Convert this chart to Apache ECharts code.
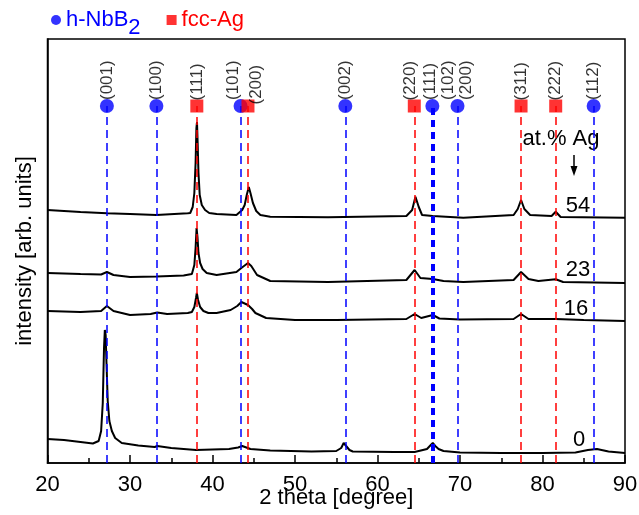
<!DOCTYPE html>
<html><head><meta charset="utf-8">
<script src="https://cdn.jsdelivr.net/npm/echarts@6/dist/echarts.min.js"></script>
<style>html,body{margin:0;padding:0;background:#fff}#c{width:639px;height:515px}</style>
</head><body><div id="c"></div>
<script>
// XRD patterns (intensity in arb. units, already vertically offset as plotted)
const tt0  = [20,22,24,25.5,26.2,26.5,26.7,26.85,26.95,27.05,27.15,27.3,27.5,27.8,28.2,29,31,33,33.3,35,38,42,43.1,43.6,44.1,44.6,47,52,55,55.6,55.9,56.2,56.6,57,62,64.5,66,66.4,66.7,67,67.4,68,70,75,80,84,85.5,86.6,88,90];
const int0 = [24,23,21,19.5,22,32,60,115,133,128,100,62,42,32,25,20,17.5,16,17,15,13,14,15.5,17,15.5,14,12.5,11.5,12,15,20,17,13,11.5,11,11,14,17.5,20,17,14,12,10.5,10,10,10.5,13,14,11.5,10];
const tt16  = [20,24,26.5,27.2,28,30,32.5,33.3,34.5,37,37.5,37.8,38.0,38.1,38.25,38.5,38.9,39.5,40.5,42.2,43.0,43.5,44.3,44.8,45.2,46.5,50,55,63.5,64.5,65.3,66.7,67.5,70,76.5,77.4,78.3,81.6,85,90];
const int16 = [152,151,152,157,152,148,149,150.5,149,150,151,156,165,170,163,156,152,150,150,153,157,161,158,154,150,145,143,143,144,149,145,148,144.5,143.5,144,149,144,144,143,142];
const tt23  = [20,24,26.5,27.2,28,30,33.2,36.5,37.5,37.8,37.95,38.07,38.18,38.3,38.5,38.8,39.3,40.5,42.9,43.5,44.3,44.7,45.4,47,54,63.5,64.5,65.2,66.7,68,70.4,76.5,77.4,78.3,79.5,81.6,82.5,90];
const int23 = [190,189,188.5,191,188,186,186.5,187.5,189,198,215,235,226,210,200,194,190,188,191,195,200,197,188,182,181,183,193,185,184,182,181,183,191,184,182,183.7,181,180];
const tt54  = [20,24,27.2,30,33.2,37,37.3,37.6,37.8,37.95,38.05,38.12,38.2,38.3,38.45,38.7,39.1,39.6,40.5,42.9,43.6,43.9,44.15,44.4,44.6,44.9,45.3,45.8,47,54,63.5,64.2,64.6,65.0,65.4,66.7,70.4,76.5,77.0,77.4,77.8,78.5,81.1,81.6,82.2,90];
const int54 = [253,251,249.7,249,248,249.7,250,256,270,300,335,341,320,290,268,258,253,250,249,248,253,258,268,276,270,260,252,248,246.3,245.7,247,253,266.3,256,248,247,245.3,248,254,263,254,248,247,251.3,246,245.3];
const sampleLabels = ['0','16','23','54'];

// reference reflections
const nbPos = [27.2, 33.2, 43.4, 56.1, 66.65, 69.7, 86.2];
const nbHkl = ['(001)','(100)','(101)','(002)','(111)','(102)\n(200)','(112)'];
const agPos = [38.1, 44.3, 64.46, 77.4, 81.6];
const agHkl = ['(111)','(200)','(220)','(311)','(222)'];
const markerLevel = 357;

const FF = '"Liberation Sans", Arial, sans-serif';
const chart = echarts.init(document.getElementById('c'), null, {renderer:'canvas'});

const zip = (a,b)=>a.map((v,i)=>[v,b[i]]);
const curves = [[tt0,int0],[tt16,int16],[tt23,int23],[tt54,int54]].map((c,i)=>({
  type:'line', name:'s'+sampleLabels[i], data: zip(c[0],c[1]), showSymbol:false, symbol:'none',
  lineStyle:{color:'#000', width:2}, z:2, silent:true, animation:false
}));

// label offsets are in the rotated label frame: [along text (up), across text (right)]
const nbLabelOffset = {2:[0,-7], 4:[0,-2]};
const agLabelOffset = {1:[-4,8], 2:[0,-4]};

function phaseSeries(name, pos, hkl, color, symbol, size, offs, thickIdx){
  return {
    type:'scatter', name, symbol, symbolSize:size, z:5, animation:false,
    itemStyle:{color},
    data: pos.map((p,i)=>({value:[p,markerLevel], label:{offset: offs[i]||[0,0]}})),
    label:{show:true, formatter:(d)=>hkl[d.dataIndex], position:'top', distance:-1, rotate:90,
      align:'left', verticalAlign:'middle', fontSize:17, color:'#000', fontFamily:FF, lineHeight:18},
    markLine:{silent:true, symbol:'none', animation:false, label:{show:false},
      lineStyle:{color, type:[8,5], width:1.5},
      data: pos.map((p,i)=>[{coord:[p,0], lineStyle: i===thickIdx?{width:4,type:[7,5]}:undefined},{coord:[p,markerLevel]}])
    }
  };
}

const option = {
  backgroundColor:'#fff',
  animation:false,
  textStyle:{fontFamily:FF},
  grid:{left:47.5, right:14, top:39, bottom:52, show:true, borderColor:'#000', borderWidth:1.5,
    backgroundColor:'transparent', containLabel:false, outerBoundsMode:'none'},
  legend:{
    left:46, top:4, itemWidth:10, itemHeight:10, itemGap:26, selectedMode:false,
    data:[{name:'h-NbB2', icon:'circle'},{name:'fcc-Ag', icon:'rect'}],
    formatter:(n)=> n==='h-NbB2' ? '{a|h-NbB}{b|2}' : '{c|fcc-Ag}',
    textStyle:{fontFamily:FF, rich:{
      a:{fontSize:22, color:'#0000ff', fontFamily:FF, lineHeight:22, verticalAlign:'top'},
      b:{fontSize:22, color:'#0000ff', fontFamily:FF, lineHeight:22, padding:[8,0,0,0], verticalAlign:'top'},
      c:{fontSize:22, color:'#ff0000', fontFamily:FF, lineHeight:22, verticalAlign:'top'}
    }}
  },
  xAxis:{type:'value', min:20, max:90, interval:10,
    axisLine:{lineStyle:{color:'#000', width:1.5}},
    axisTick:{inside:true, length:8, lineStyle:{color:'#000', width:1.5}},
    minorTick:{show:true, splitNumber:2, length:5, lineStyle:{color:'#000', width:1.5}},
    splitLine:{show:false},
    axisLabel:{fontSize:22, color:'#000', margin:11, fontFamily:FF},
    name:'2 theta [degree]', nameLocation:'middle', nameGap:24, nameMoveOverlap:false,
    nameTextStyle:{fontSize:22, color:'#000', fontFamily:FF}
  },
  yAxis:{type:'value', min:0, max:424,
    axisLine:{show:true, lineStyle:{color:'#000', width:1.5}},
    axisTick:{show:false}, axisLabel:{show:false}, splitLine:{show:false},
    name:'intensity [arb. units]', nameLocation:'middle', nameGap:12, nameMoveOverlap:false,
    nameTextStyle:{fontSize:22, color:'#000', fontFamily:FF}
  },
  series:[
    ...curves,
    phaseSeries('h-NbB2', nbPos, nbHkl, '#0000ff', 'circle', 14, nbLabelOffset, 4),
    phaseSeries('fcc-Ag', agPos, agHkl, '#ff0000', 'rect', 13, agLabelOffset, -1)
  ],
  graphic:[
    {type:'text', x:561, y:139, style:{text:'at.% Ag', fontSize:22, fontFamily:FF, fill:'#000', align:'center', verticalAlign:'middle'}},
    {type:'line', shape:{x1:574, y1:155, x2:574, y2:168}, style:{stroke:'#000', lineWidth:1.5}},
    {type:'polygon', shape:{points:[[570.5,166],[577.5,166],[574,176]]}, style:{fill:'#000'}},
    {type:'text', x:578, y:205.5, style:{text:sampleLabels[3], fontSize:22, fontFamily:FF, fill:'#000', align:'center', verticalAlign:'middle'}},
    {type:'text', x:578, y:269.5, style:{text:sampleLabels[2], fontSize:22, fontFamily:FF, fill:'#000', align:'center', verticalAlign:'middle'}},
    {type:'text', x:576, y:308.5, style:{text:sampleLabels[1], fontSize:22, fontFamily:FF, fill:'#000', align:'center', verticalAlign:'middle'}},
    {type:'text', x:579, y:439.5, style:{text:sampleLabels[0], fontSize:22, fontFamily:FF, fill:'#000', align:'center', verticalAlign:'middle'}}
  ]
};
chart.setOption(option);
</script></body></html>
